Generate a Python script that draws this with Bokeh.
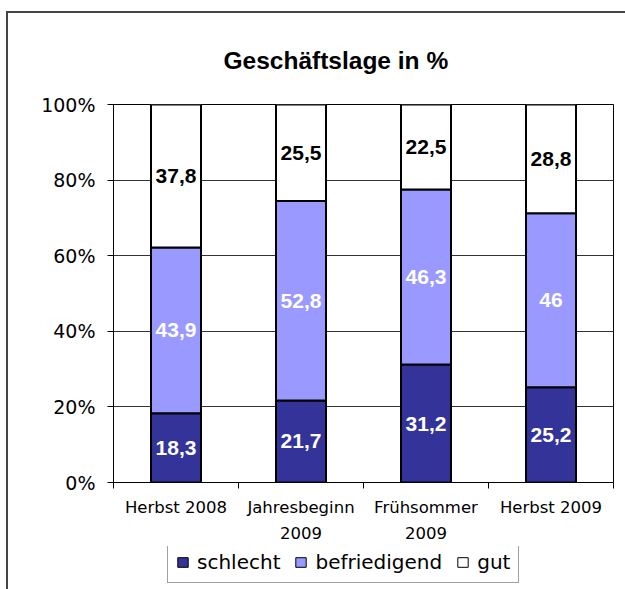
from bokeh.plotting import figure
from bokeh.layouts import column
from bokeh.models import (ColumnDataSource, Range1d, LinearAxis, FixedTicker, PrintfTickFormatter,
                          Legend, LegendItem, LabelSet)
from bokeh.core.properties import value
from bokeh.embed import file_html
from bokeh.resources import INLINE

# ---- data ----
categories = ["Herbst 2008", "Jahresbeginn\n2009", "Frühsommer\n2009", "Herbst 2009"]
series = ["schlecht", "befriedigend", "gut"]
schlecht = [18.3, 21.7, 31.2, 25.2]
befriedigend = [43.9, 52.8, 46.3, 46.0]
gut = [37.8, 25.5, 22.5, 28.8]
y_ticks = [0, 20, 40, 60, 80, 100]
title_text = "Geschäftslage in %"

# ---- styles ----
colors = ["#333399", "#9999FF", "#FFFFFF"]
label_colors = ["#FFFFFF", "#FFFFFF", "#000000"]
REG = "DejaVu Sans"
BOLD = "Liberation Sans"

n = len(categories)
centers = [i + 0.5 for i in range(n)]
edges = list(range(n + 1))

src = ColumnDataSource(dict(x=centers, schlecht=schlecht, befriedigend=befriedigend, gut=gut))

p = figure(width=617, height=533, x_range=Range1d(0, n), y_range=Range1d(0, 100),
           output_backend="svg", toolbar_location=None, x_axis_location=None,
           min_border_left=105, min_border_right=12, min_border_top=91, min_border_bottom=64)
p.background_fill_color = "white"
p.border_fill_color = "white"
p.outline_line_color = "black"
p.outline_line_width = 1

renderers = p.vbar_stack(series, x="x", width=0.4, color=colors, line_color="black",
                         line_width=2, source=src)

# title
p.title.text = title_text
p.title.align = "left"
p.title.offset = 110
p.title.standoff = 62
p.title.text_font = BOLD
p.title.text_font_style = "bold"
p.title.text_font_size = "24.5px"
p.title.text_color = "black"

# y axis
p.yaxis.ticker = FixedTicker(ticks=y_ticks)
p.yaxis.formatter = PrintfTickFormatter(format="%d%%")
p.yaxis.major_label_text_font = REG
p.yaxis.major_label_text_font_size = "19px"
p.yaxis.major_label_text_color = "black"
p.yaxis.major_tick_out = 6
p.yaxis.major_tick_in = 0
p.yaxis.minor_tick_line_color = None
p.yaxis.major_label_standoff = 12
p.yaxis.axis_line_color = "black"
p.ygrid.ticker = FixedTicker(ticks=y_ticks)
p.ygrid.grid_line_color = "#333333"
p.ygrid.grid_line_width = 1
p.xgrid.grid_line_color = None

# x axis: category labels at centres, tick marks at category boundaries
x_axis = LinearAxis(ticker=FixedTicker(ticks=centers, minor_ticks=edges),
                    major_tick_out=0, major_tick_in=0, major_tick_line_color=None,
                    minor_tick_out=6, minor_tick_in=0, minor_tick_line_color="black",
                    axis_line_color="black", major_label_standoff=9,
                    major_label_overrides={c: lab for c, lab in zip(centers, categories)},
                    major_label_text_font=REG, major_label_text_font_size="16.5px",
                    major_label_text_color="black", major_label_text_line_height=1.4)
p.add_layout(x_axis, "below")

# value labels
lx, ly, lt, lc = [], [], [], []
bottoms = [0.0] * n
for s, col in zip(series, label_colors):
    vals = src.data[s]
    for i, v in enumerate(vals):
        lx.append(centers[i])
        ly.append(bottoms[i] + v / 2)
        lt.append(f"{v:g}".replace(".", ","))
        lc.append(col)
        bottoms[i] += v
lab_src = ColumnDataSource(dict(x=lx, y=ly, t=lt, c=lc))
p.add_layout(LabelSet(x="x", y="y", text="t", source=lab_src, text_color="c",
                      text_font=value(BOLD), text_font_style="bold", text_font_size="21px",
                      text_align="center", text_baseline="middle"))

# legend strip (own small figure below the chart); its swatch glyphs use the same data
# but lie far outside this strip's ranges, so only the legend itself is visible
lfig = figure(width=617, height=43, x_range=Range1d(-1000, -999), y_range=Range1d(1000, 1001),
              output_backend="svg", toolbar_location=None, x_axis_location=None,
              y_axis_location=None, min_border=0)
lfig.outline_line_color = None
lfig.background_fill_color = "white"
lfig.border_fill_color = "white"
lfig.xgrid.grid_line_color = None
lfig.ygrid.grid_line_color = None
swatches = [lfig.vbar(x="x", top=s, width=0.4, source=src, fill_color=c, line_color="black",
                      line_width=1) for s, c in zip(series, colors)]
legend = Legend(items=[LegendItem(label=s, renderers=[r]) for s, r in zip(series, swatches)],
                orientation="horizontal", location=(54, 6), label_text_font=REG,
                label_text_font_size="20px", label_text_color="black",
                glyph_width=13, glyph_height=12, label_standoff=8,
                spacing=14, padding=8, margin=0, border_line_color="#444444", border_line_width=1,
                background_fill_color="white", background_fill_alpha=1)
lfig.add_layout(legend, "center")

layout = column(p, lfig, spacing=0,
                styles={"margin-left": "6px", "margin-top": "11px",
                        "border-left": "2px solid #444444", "border-top": "2px solid #444444"})

open("out.html", "w").write(file_html(layout, INLINE))
